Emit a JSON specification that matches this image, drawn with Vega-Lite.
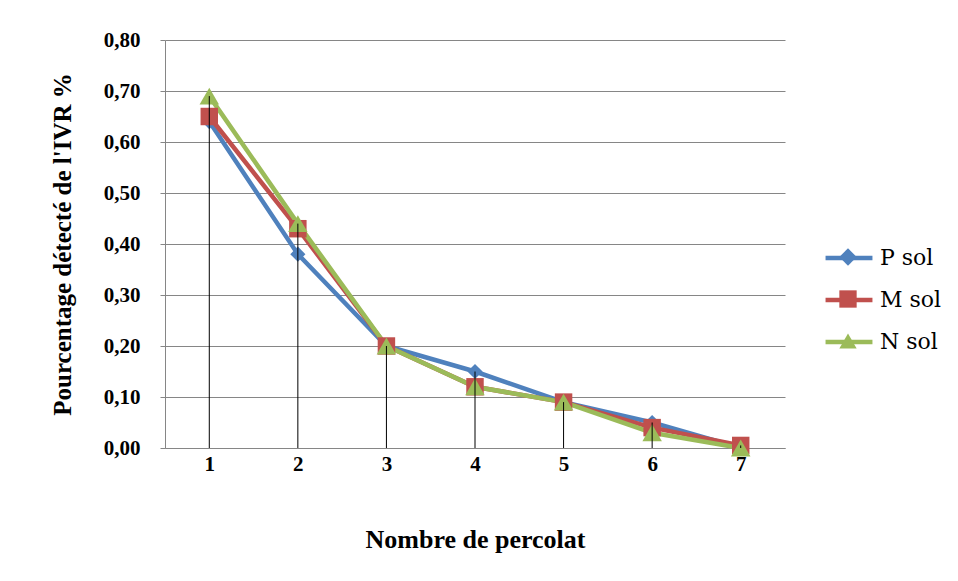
{
  "$schema": "https://vega.github.io/schema/vega-lite/v6.json",
  "width": 620,
  "height": 408,
  "autosize": {"type": "none"},
  "padding": {"left": 165, "top": 40, "right": 173, "bottom": 133},
  "background": "white",
  "config": {
    "view": {"stroke": null},
    "font": "Liberation Serif",
    "legend": {"labelFont": "DejaVu Serif", "labelFontSize": 22, "labelColor": "black"}
  },
  "data": {
    "values": [
      {"n": "1", "sol": "P sol", "v": 0.64},
      {"n": "2", "sol": "P sol", "v": 0.38},
      {"n": "3", "sol": "P sol", "v": 0.20},
      {"n": "4", "sol": "P sol", "v": 0.15},
      {"n": "5", "sol": "P sol", "v": 0.09},
      {"n": "6", "sol": "P sol", "v": 0.05},
      {"n": "7", "sol": "P sol", "v": 0.00},
      {"n": "1", "sol": "M sol", "v": 0.65},
      {"n": "2", "sol": "M sol", "v": 0.43},
      {"n": "3", "sol": "M sol", "v": 0.20},
      {"n": "4", "sol": "M sol", "v": 0.12},
      {"n": "5", "sol": "M sol", "v": 0.09},
      {"n": "6", "sol": "M sol", "v": 0.04},
      {"n": "7", "sol": "M sol", "v": 0.005},
      {"n": "1", "sol": "N sol", "v": 0.69},
      {"n": "2", "sol": "N sol", "v": 0.44},
      {"n": "3", "sol": "N sol", "v": 0.20},
      {"n": "4", "sol": "N sol", "v": 0.12},
      {"n": "5", "sol": "N sol", "v": 0.09},
      {"n": "6", "sol": "N sol", "v": 0.03},
      {"n": "7", "sol": "N sol", "v": 0.00}
    ]
  },
  "encoding": {
    "x": {
      "field": "n",
      "type": "ordinal",
      "scale": {"type": "point", "padding": 0.5},
      "axis": {
        "title": "Nombre de percolat",
        "titleFont": "Liberation Serif",
        "titleFontSize": 26,
        "titleFontWeight": "bold",
        "titleColor": "black",
        "titlePadding": 52,
        "labelAngle": 0,
        "labelFont": "Liberation Serif",
        "labelFontSize": 21,
        "labelFontWeight": "bold",
        "labelColor": "black",
        "labelPadding": 5,
        "ticks": false,
        "domainColor": "#868686",
        "domainWidth": 1,
        "grid": false
      }
    },
    "y": {
      "field": "v",
      "type": "quantitative",
      "scale": {"domain": [0, 0.8], "nice": false},
      "axis": {
        "title": "Pourcentage détecté de l'IVR %",
        "titleFont": "Liberation Serif",
        "titleFontSize": 25,
        "titleFontWeight": "bold",
        "titleColor": "black",
        "titlePadding": 28,
        "values": [0, 0.1, 0.2, 0.3, 0.4, 0.5, 0.6, 0.7, 0.8],
        "labelExpr": "replace(format(datum.value, '.2f'), '.', ',')",
        "labelFont": "Liberation Serif",
        "labelFontSize": 21,
        "labelFontWeight": "bold",
        "labelColor": "black",
        "labelPadding": 20,
        "tickSize": 5,
        "tickColor": "#868686",
        "domainColor": "#868686",
        "gridColor": "#868686",
        "gridWidth": 1,
        "grid": true
      }
    }
  },
  "resolve": {"legend": {"color": "independent", "shape": "independent", "fill": "independent"}},
  "layer": [
    {
      "mark": {"type": "line", "strokeWidth": 4.5},
      "encoding": {
        "color": {
          "field": "sol",
          "type": "nominal",
          "scale": {"domain": ["P sol", "M sol", "N sol"], "range": ["#4F81BD", "#C0504D", "#9BBB59"]},
          "legend": {
            "title": null,
            "orient": "none",
            "legendX": 658,
            "legendY": 192,
            "padding": 0,
            "symbolType": "stroke",
            "symbolSize": 2200,
            "symbolStrokeWidth": 4.5,
            "labelFont": "DejaVu Serif",
            "labelFontSize": 22,
            "labelColor": "black",
            "labelOffset": 5,
            "rowPadding": 5
          }
        },
        "order": {"field": "n"},
        "detail": {"field": "sol"}
      }
    },
    {
      "mark": {"type": "point", "filled": true, "opacity": 1, "strokeWidth": 0},
      "encoding": {
        "fill": {
          "field": "sol",
          "type": "nominal",
          "scale": {"domain": ["P sol", "M sol", "N sol"], "range": ["#4F81BD", "#C0504D", "#9BBB59"]},
          "legend": null
        },
        "shape": {
          "field": "sol",
          "type": "nominal",
          "scale": {"domain": ["P sol", "M sol", "N sol"], "range": ["diamond", "square", "triangle-up"]},
          "legend": {
            "title": null,
            "orient": "none",
            "legendX": 672,
            "legendY": 206,
            "padding": 0,
            "symbolSize": 300,
            "symbolStrokeWidth": 0,
            "labelExpr": "''",
            "labelOffset": 0,
            "rowPadding": 20,
            "encode": {
              "symbols": {
                "update": {
                  "fill": {"scale": "fill", "field": "value"},
                  "fillOpacity": {"value": 1},
                  "strokeWidth": {"value": 0}
                }
              }
            }
          }
        },
        "size": {
          "field": "sol",
          "type": "nominal",
          "scale": {"domain": ["P sol", "M sol", "N sol"], "range": [230, 380, 300]},
          "legend": null
        }
      }
    },
    {
      "transform": [{"aggregate": [{"op": "max", "field": "v", "as": "vmax"}], "groupby": ["n"]}],
      "mark": {"type": "rule", "color": "black", "strokeWidth": 1},
      "encoding": {
        "y": {"field": "vmax", "type": "quantitative"},
        "y2": {"datum": 0}
      }
    }
  ]
}
